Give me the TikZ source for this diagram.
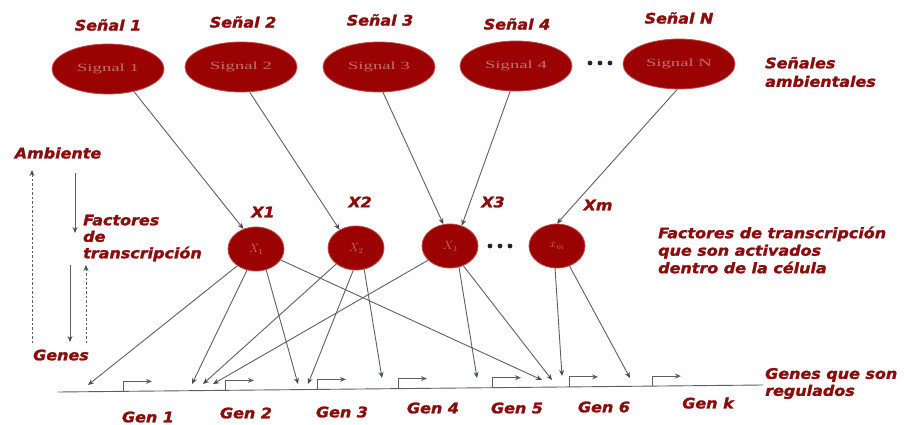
\documentclass[tikz,border=0pt]{standalone}
\usepackage{fontspec}
\usetikzlibrary{arrows.meta,shapes.geometric}
\newfontfamily\labfont[FakeStretch=1.1,FakeBold=1.6]{DejaVu Sans}
\newfontfamily\sigfont[FakeStretch=1.7]{Liberation Serif}
\definecolor{lab}{RGB}{140,12,12}
\definecolor{blob}{RGB}{155,3,3}
\definecolor{blobedge}{RGB}{195,70,70}
\definecolor{faint}{RGB}{195,110,110}
\definecolor{wire}{RGB}{95,95,95}
\definecolor{tipc}{RGB}{65,80,80}
\definecolor{dotc}{RGB}{35,35,50}
\begin{document}
\begin{tikzpicture}[x=1pt,y=-1pt,
  lbl/.style={font=\labfont\bfseries\itshape\fontsize{14.5}{17}\selectfont, text=lab, inner sep=0pt},
  sig/.style={ellipse, fill=blob, draw=blobedge, line width=0.8pt, minimum width=112pt, minimum height=50pt, inner sep=0pt, font=\sigfont\fontsize{11}{11}\selectfont, text=faint},
  tf/.style={ellipse, fill=blob, draw=blobedge, line width=0.8pt, minimum width=56pt, minimum height=44pt, inner sep=0pt, font=\fontsize{12}{12}\selectfont, text=faint},
  arr/.style={draw=wire, line width=0.9pt, -{Stealth[length=6pt,width=5pt,color=tipc]}},
  darr/.style={draw=wire, line width=1pt, dash pattern=on 2.5pt off 2pt, -{Stealth[length=6pt,width=5pt,color=tipc]}},
  prom/.style={draw=wire, line width=0.9pt, -{Stealth[length=6pt,width=5pt,color=wire]}}
]
\fill[white] (0,0) rectangle (905,425);
\useasboundingbox (0,0) rectangle (905,425);

% signals
\node[sig] (S1) at (108,69) {Signal 1};
\node[sig] (S2) at (241,67) {Signal 2};
\node[sig] (S3) at (379,67) {Signal 3};
\node[sig] (S4) at (516,66) {Signal 4};
\node[sig] (SN) at (679,64) {Signal N};
\node[lbl] (LS1) at (108,25) {Señal 1};
\node[lbl] (LS2) at (243,22) {Señal 2};
\node[lbl] (LS3) at (380,20) {Señal 3};
\node[lbl] (LS4) at (517,24) {Señal 4};
\node[lbl] (LSN) at (679,18) {Señal N};
\foreach \d in {590,600,610} \fill[dotc] (\d,63) circle (2.4pt);
\node[lbl, anchor=west, align=left, font=\labfont\bfseries\itshape\fontsize{14.5}{18.5}\selectfont] (SA) at (765,72) {Señales\\ambientales};

% transcription factors
\node[tf] (X1) at (256,249) {$X_1$};
\node[tf] (X2) at (356,248) {$X_2$};
\node[tf] (X3) at (450,246) {$X_3$};
\node[tf] (Xm) at (557,246) {$x_m$};
\node[lbl] (LX1) at (263,212) {X1};
\node[lbl] (LX2) at (360,202) {X2};
\node[lbl] (LX3) at (493,202) {X3};
\node[lbl] (LXm) at (598,205) {Xm};
\foreach \d in {490,500,510} \fill[dotc] (\d,246) circle (2.4pt);
\node[lbl, anchor=west, align=left, font=\labfont\bfseries\itshape\fontsize{14.5}{17.5}\selectfont] (FT) at (658,250) {Factores de transcripción\\que son activados\\dentro de la célula};

% signal -> TF arrows
\draw[arr] (S1.-41.6) -- (X1.122.5);
\draw[arr] (S2.-71) -- (X2.132);
\draw[arr] (S3.-81) -- (X3.107);
\draw[arr] (S4.-103) -- (X3.60.5);
\draw[arr] (SN.-94) -- (Xm.90);

% gene line and promoters
\coordinate (BL) at (58,392);
\coordinate (BR) at (763,385);
\draw[wire, line width=0.9pt] (BL) -- (BR);
\foreach \x in {123,225,317,398,492,569,652} {
  \pgfmathsetmacro\yb{392-7*(\x-58)/705}
  \draw[prom] (\x,\yb) -- (\x,\yb-10) -- (\x+29,\yb-10);
}

% targets
\coordinate (t1) at (88,385);
\coordinate (t2) at (192,384);
\coordinate (t3) at (203,384);
\coordinate (t4) at (213,384);
\coordinate (t5) at (298,384);
\coordinate (t6) at (308,384);
\coordinate (t7) at (382,378);
\coordinate (t8) at (477,378);
\coordinate (t9) at (542,380);
\coordinate (t10) at (552,380);
\coordinate (t11) at (562,376);
\coordinate (t12) at (630,378);

\draw[arr] (X1.-138) -- (t1);
\draw[arr] (X1.-113) -- (t2);
\draw[arr] (X1.-64) -- (t5);
\draw[arr] (X1.-24) -- (t9);
\draw[arr] (X2.-141) -- (t3);
\draw[arr] (X2.-97) -- (t6);
\draw[arr] (X2.-69) -- (t7);
\draw[arr] (X3.-147) -- (t4);
\draw[arr] (X3.-67) -- (t8);
\draw[arr] (X3.-56) -- (t10);
\draw[arr] (Xm.-95) -- (t11);
\draw[arr] (Xm.-58) -- (t12);

% gene labels
\node[lbl] (G1) at (148,417) {Gen 1};
\node[lbl] (G2) at (246,413) {Gen 2};
\node[lbl] (G3) at (342,412) {Gen 3};
\node[lbl] (G4) at (433,408) {Gen 4};
\node[lbl] (G5) at (517,408) {Gen 5};
\node[lbl] (G6) at (604,407) {Gen 6};
\node[lbl] (Gk) at (708,403) {Gen k};
\node[lbl, anchor=west, align=left] (GR) at (765,383.5) {Genes que son\\regulados};

% left schematic
\node[lbl] (Amb) at (58,153) {Ambiente};
\node[lbl, anchor=west, align=left, font=\labfont\bfseries\itshape\fontsize{14.5}{16.5}\selectfont] (FdT) at (83,238) {Factores\\de\\transcripción};
\node[lbl] (Gns) at (61,355) {Genes};
\coordinate (a1) at (32,343);
\coordinate (a2) at (32,170);
\coordinate (b1) at (75,173);
\coordinate (b2) at (75,233);
\coordinate (c1) at (70,265);
\coordinate (c2) at (70,342);
\coordinate (d1) at (86,343);
\coordinate (d2) at (86,265);
\draw[darr] (a1) -- (a2);
\draw[arr] (b1) -- (b2);
\draw[arr] (c1) -- (c2);
\draw[darr] (d1) -- (d2);
\end{tikzpicture}
\end{document}
